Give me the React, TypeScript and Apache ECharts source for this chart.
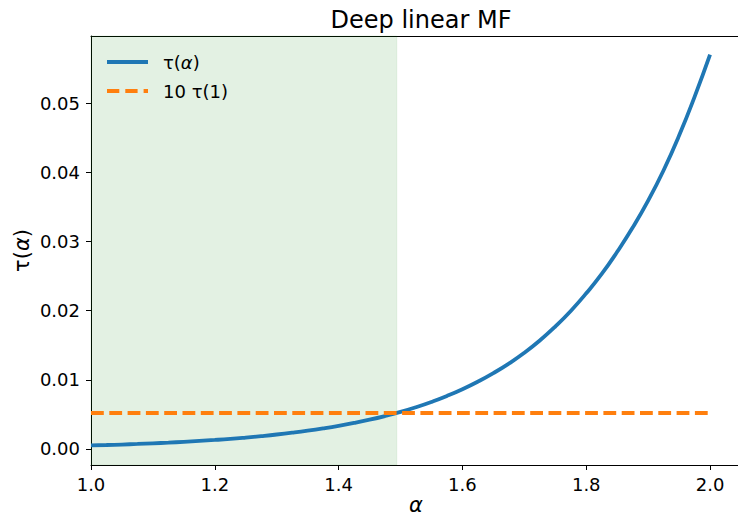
import React, { useEffect, useRef } from "react";
import * as echarts from "echarts";

// Hand-read values of tau(alpha) from the reference picture
const alphaValues = [
  1.0, 1.025, 1.05, 1.075, 1.1, 1.125, 1.15, 1.175, 1.2, 1.225, 1.25, 1.275, 1.3, 1.325, 1.35, 1.375, 1.4, 1.425, 1.45, 1.475,
  1.5, 1.525, 1.55, 1.575, 1.6, 1.625, 1.65, 1.675, 1.7, 1.725, 1.75, 1.775, 1.8, 1.825, 1.85, 1.875, 1.9, 1.925, 1.95, 1.975, 2.0,
];
const tauValues = [
  0.00051, 0.00057, 0.00064, 0.00072, 0.00081, 0.00091, 0.00103, 0.00116, 0.0013, 0.00146, 0.00165, 0.00186, 0.00209, 0.00235, 0.00264, 0.00297, 0.00334, 0.00376, 0.00423, 0.00476,
  0.00535, 0.00603, 0.0068, 0.00766, 0.00863, 0.00973, 0.01096, 0.01234, 0.0139, 0.01568, 0.0177, 0.01995, 0.0225, 0.0253, 0.0285, 0.0320, 0.0359, 0.0403, 0.0453, 0.0509, 0.057,
];
const refLineX = [1.0, 2.0];
const refLineY = [0.0052, 0.0052];
const shadeRange = [1.0, 1.494];
const xTicks = [1.0, 1.2, 1.4, 1.6, 1.8, 2.0];
const yTicks = [0.0, 0.01, 0.02, 0.03, 0.04, 0.05];
const seriesNames = ["τ(α)", "10 τ(1)"];
const titleText = "Deep linear MF";

const FONT = "DejaVu Sans";

export default function App() {
  const ref = useRef<HTMLDivElement>(null);
  useEffect(() => {
    if (!ref.current) return;
    const chart = echarts.init(ref.current, null, { renderer: "svg" });
    const curve = alphaValues.map((a, i) => [a, tauValues[i]]);
    const ref10 = refLineX.map((a, i) => [a, refLineY[i]]);
    chart.setOption({
      animation: false,
      backgroundColor: "#ffffff",
      title: {
        text: titleText,
        left: 416,
        top: 3,
        textAlign: "center",
        textStyle: { fontFamily: FONT, fontSize: 24, fontWeight: "normal", color: "#000" },
      },
      legend: {
        orient: "vertical",
        left: 107,
        top: 53,
        padding: 0,
        itemWidth: 41,
        itemHeight: 4,
        itemGap: 11,
        data: [
          { name: seriesNames[0], icon: "path://M0,0h41v4h-41z" },
          { name: seriesNames[1], icon: "path://M0,0h12.3v4h-12.3zM18.3,0h12.3v4h-12.3zM36.6,0h4.4v4h-4.4z" },
        ],
        formatter: (name: string) =>
          name === seriesNames[0] ? "{a|τ(}{i|α}{a|)}" : "{a|10 τ(1)}",
        textStyle: {
          padding: [0, 0, 0, 10],
          rich: {
            a: { fontFamily: FONT, fontSize: 18, color: "#000" },
            i: { fontFamily: FONT, fontSize: 18, fontStyle: "italic", color: "#000" },
          },
        },
      },
      grid: { left: 91, right: -3, top: 36, bottom: 52, containLabel: false, outerBoundsMode: "none" },
      xAxis: [
        {
          type: "value",
          min: 1.0,
          max: 2.05,
          name: "α",
          nameLocation: "middle",
          nameGap: 29,
          nameMoveOverlap: false,
          nameTextStyle: { fontFamily: FONT, fontSize: 21, lineHeight: 21, fontStyle: "italic", color: "#000" },
          axisLine: { show: true, onZero: false, lineStyle: { color: "#000", width: 1 } },
          axisTick: { show: true, length: 5, customValues: xTicks, lineStyle: { color: "#000", width: 1 } },
          axisLabel: {
            customValues: xTicks,
            formatter: (v: number) => v.toFixed(1),
            fontFamily: FONT,
            fontSize: 18,
            color: "#000",
            margin: 10,
          },
          splitLine: { show: false },
        },
        {
          type: "value",
          position: "top",
          min: 1.0,
          max: 2.05,
          axisLine: { show: true, onZero: false, lineStyle: { color: "#000", width: 1 } },
          axisTick: { show: false },
          axisLabel: { show: false },
          splitLine: { show: false },
        },
      ],
      yAxis: {
        type: "value",
        min: -0.00232,
        max: 0.0597,
        name: "{a|τ(}{i|α}{a|)}",
        nameLocation: "middle",
        nameGap: 59,
        nameRotate: 90,
        nameMoveOverlap: false,
        nameTextStyle: {
          color: "#000",
          rich: {
            a: { fontFamily: FONT, fontSize: 21, color: "#000" },
            i: { fontFamily: FONT, fontSize: 21, fontStyle: "italic", color: "#000" },
          },
        },
        axisLine: { show: true, onZero: false, lineStyle: { color: "#000", width: 1 } },
        axisTick: { show: true, length: 5, customValues: yTicks, lineStyle: { color: "#000", width: 1 } },
        axisLabel: {
          customValues: yTicks,
          formatter: (v: number) => v.toFixed(2),
          fontFamily: FONT,
          fontSize: 18,
          color: "#000",
          margin: 11,
        },
        splitLine: { show: false },
      },
      series: [
        {
          name: seriesNames[0],
          type: "line",
          data: curve,
          smooth: true,
          showSymbol: false,
          symbol: "none",
          lineStyle: { color: "#1f77b4", width: 3.8 },
          itemStyle: { color: "#1f77b4" },
          markArea: {
            silent: true,
            itemStyle: { color: "rgba(0,128,0,0.11)", borderColor: "rgba(0,128,0,0.08)", borderWidth: 1 },
            data: [[{ xAxis: shadeRange[0] }, { xAxis: shadeRange[1] }]],
          },
        },
        {
          name: seriesNames[1],
          type: "line",
          data: ref10,
          showSymbol: false,
          symbol: "none",
          lineStyle: { color: "#ff7f0e", width: 4, type: [12.8, 5.5], cap: "butt" },
          itemStyle: { color: "#ff7f0e" },
        },
      ],
    });
    return () => chart.dispose();
  }, []);
  return (
    <div style={{ position: "fixed", left: 0, top: 0, width: 738, height: 517, overflow: "hidden", background: "#fff" }}>
      <div ref={ref} style={{ width: 738, height: 517 }} />
    </div>
  );
}
